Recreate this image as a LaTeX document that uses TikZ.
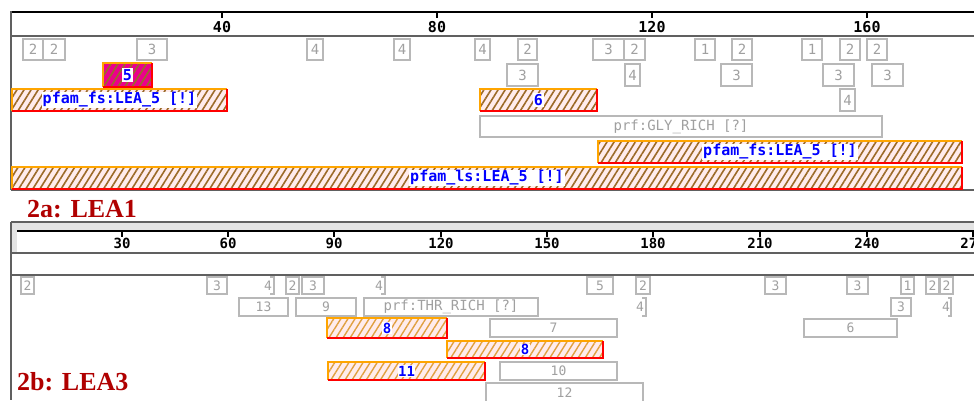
\documentclass[tikz,border=0pt]{standalone}
\usepackage{fontspec}
\setmainfont{Liberation Serif}
\newfontfamily\monof{DejaVu Sans Mono}
\usetikzlibrary{patterns.meta}
\definecolor{boxgray}{HTML}{B8B8B8}
\definecolor{txtgray}{HTML}{A0A0A0}
\definecolor{pinkbg}{HTML}{FFECEC}
\definecolor{hatchtop}{HTML}{9C6A28}
\definecolor{hatchbot}{HTML}{E0A040}
\definecolor{bordor}{HTML}{FFA500}
\definecolor{bordred}{HTML}{FF0000}
\definecolor{labred}{HTML}{B00000}
\definecolor{labblue}{HTML}{0000FF}
\definecolor{framegray}{HTML}{606060}
\definecolor{bandgray}{HTML}{E4E4E4}
\tikzset{
  gbox/.style={draw=boxgray,line width=1.4pt,text=txtgray,inner sep=0pt,font=\monof\fontsize{14}{14}\selectfont},
  gboxs/.style={gbox,font=\monof\fontsize{13}{13}\selectfont},
  htop/.style={inner sep=0pt,preaction={fill=pinkbg},pattern={Lines[angle=58,distance=6pt,line width=1.6pt]},pattern color=hatchtop},
  hbot/.style={inner sep=0pt,preaction={fill=pinkbg},pattern={Lines[angle=58,distance=6pt,line width=1.4pt]},pattern color=hatchbot},
  hmag/.style={inner sep=0pt,preaction={fill=magenta},pattern={Lines[angle=58,distance=6pt,line width=1.6pt]},pattern color=hatchtop},
  hlab/.style={fill=white,inner sep=1pt,text=labblue,font=\monof\bfseries\fontsize{15}{15}\selectfont},
  hlabs/.style={fill=white,inner sep=0.5pt,text=labblue,font=\monof\bfseries\fontsize{14}{14}\selectfont},
  rulnum/.style={inner sep=0pt,font=\monof\bfseries\fontsize{15}{15}\selectfont},
  rulnums/.style={inner sep=0pt,font=\monof\bfseries\fontsize{14}{14}\selectfont},
  tick/.style={line width=1.5pt},
  brk/.style={draw=boxgray,line width=1.4pt},
  ptxt/.style={inner sep=0pt,text=txtgray,font=\monof\fontsize{13}{13}\selectfont},
  panlab/.style={inner sep=0pt,text=labred,font=\bfseries\fontsize{26}{26}\selectfont},
  obord/.style={draw=bordor,line width=1.8pt},
  rbord/.style={draw=bordred,line width=1.8pt}
}
\newcommand\gbx[7]{\node[#7,minimum width={(#4-#2)*1pt},minimum height={(#5-#3)*1pt}] (#1) at ({(#2+#4)/2},{(#3+#5)/2}) {#6};}
\newcommand\hbx[8]{%
  \node[#7,minimum width={(#4-#2)*1pt},minimum height={(#5-#3)*1pt}] (#1) at ({(#2+#4)/2},{(#3+#5)/2}) {};
  \draw[obord] (#1.south west) -- (#1.north west) -- (#1.north east);
  \draw[rbord] (#1.north east) -- (#1.south east) -- (#1.south west);
  \node[#8] (#1-l) at (#1.center) {#6};}
\begin{document}
\begin{tikzpicture}[x=1pt,y=-1pt]
\useasboundingbox[fill=white] (0,0) rectangle (974,400);
% ---------------- top panel frame
\draw[line width=2pt] (11,12) -- (974,12);
\draw[framegray,line width=1.5pt] (11,36) -- (974,36);
\draw[framegray,line width=1.5pt] (11,11) -- (11,190);
\draw[framegray,line width=1.5pt] (11,190) -- (974,190);
\foreach \x/\n in {222/40,437/80,652/120,867/160}{
  \draw[tick] (\x,12) -- (\x,18);
  \node[rulnum] (rt\n) at (\x,27.5) {\n};
}
% row 1
\gbx{t1a}{23}{39}{43}{60}{2}{gbox}
\gbx{t1b}{43}{39}{65}{60}{2}{gbox}
\gbx{t1c}{137}{39}{167}{60}{3}{gbox}
\gbx{t1d}{307}{39}{323}{60}{4}{gbox}
\gbx{t1e}{394}{39}{410}{60}{4}{gbox}
\gbx{t1f}{475}{39}{490}{60}{4}{gbox}
\gbx{t1g}{518}{39}{537}{60}{2}{gbox}
\gbx{t1h}{593}{39}{624}{60}{3}{gbox}
\gbx{t1i}{624}{39}{645}{60}{2}{gbox}
\gbx{t1j}{695}{39}{715}{60}{1}{gbox}
\gbx{t1k}{732}{39}{752}{60}{2}{gbox}
\gbx{t1l}{802}{39}{822}{60}{1}{gbox}
\gbx{t1m}{840}{39}{860}{60}{2}{gbox}
\gbx{t1n}{867}{39}{887}{60}{2}{gbox}
% row 2
\hbx{m5}{104}{64}{151}{86}{5}{hmag}{hlab}
\gbx{t2a}{507}{64}{538}{86}{3}{gbox}
\gbx{t2b}{625}{64}{640}{86}{4}{gbox}
\gbx{t2c}{721}{64}{752}{86}{3}{gbox}
\gbx{t2d}{823}{64}{854}{86}{3}{gbox}
\gbx{t2e}{872}{64}{903}{86}{3}{gbox}
% row 3
\hbx{p1}{12}{89}{227}{111}{pfam\_fs:LEA\_5 [!]}{htop}{hlab}
\hbx{p6}{480}{89}{597}{111}{6}{htop}{hlab}
\gbx{t3a}{840}{89}{855}{111}{4}{gbox}
% row 4
\gbx{t4a}{480}{116}{882}{137}{prf:GLY\_RICH [?]}{gbox}
% row 5
\hbx{p2}{598}{141}{962}{163}{pfam\_fs:LEA\_5 [!]}{htop}{hlab}
% row 6
\hbx{p3}{12}{167}{962}{189}{pfam\_ls:LEA\_5 [!]}{htop}{hlab}
% ---------------- labels
\node[panlab,anchor=base west] (lab2a) at (27,217) {2a: LEA1};
% ---------------- bottom panel frame
\fill[bandgray] (11,222) rectangle (974,231);
\fill[bandgray] (11,222) rectangle (17,253);
\draw[framegray,line width=1.2pt] (11,222) -- (974,222);
\draw[framegray,line width=1.2pt] (11,222) -- (11,400);
\draw[line width=2pt] (17,231) -- (974,231);
\draw[framegray,line width=2pt] (11,253) -- (974,253);
\draw[framegray,line width=1.2pt] (11,275) -- (974,275);
\foreach \x/\n in {122/30,228/60,334/90,441/120,547/150,653/180,760/210,867/240,973/270}{
  \draw[tick] (\x,231) -- (\x,237);
  \node[rulnums] (rb\n) at (\x,243) {\n};
}
% row 1
\gbx{b1a}{21}{277}{34}{294}{2}{gboxs}
\gbx{b1b}{207}{277}{227}{294}{3}{gboxs}
\node[ptxt] (b1p1) at (268,285.5) {4};
\draw[brk] (270,277) -- (274,277) -- (274,294) -- (270,294);
\gbx{b1c}{286}{277}{299}{294}{2}{gboxs}
\gbx{b1d}{302}{277}{324}{294}{3}{gboxs}
\node[ptxt] (b1p2) at (379,285.5) {4};
\draw[brk] (381,277) -- (385,277) -- (385,294) -- (381,294);
\gbx{b1e}{587}{277}{613}{294}{5}{gboxs}
\gbx{b1f}{636}{277}{650}{294}{2}{gboxs}
\gbx{b1g}{765}{277}{786}{294}{3}{gboxs}
\gbx{b1h}{847}{277}{868}{294}{3}{gboxs}
\gbx{b1i}{901}{277}{914}{294}{1}{gboxs}
\gbx{b1j}{926}{277}{939}{294}{2}{gboxs}
\gbx{b1k}{940}{277}{953}{294}{2}{gboxs}
% row 2
\gbx{b2a}{239}{298}{288}{316}{13}{gboxs}
\gbx{b2b}{296}{298}{356}{316}{9}{gboxs}
\gbx{b2c}{364}{298}{538}{316}{prf:THR\_RICH [?]}{gbox}
\node[ptxt] (b2p1) at (640,307) {4};
\draw[brk] (642,298) -- (646,298) -- (646,316) -- (642,316);
\gbx{b2d}{891}{298}{911}{316}{3}{gboxs}
\node[ptxt] (b2p2) at (946,307) {4};
\draw[brk] (948,298) -- (951,298) -- (951,316) -- (948,316);
% row 3
\hbx{h8a}{328}{319}{446}{337}{8}{hbot}{hlabs}
\gbx{b3a}{490}{319}{617}{337}{7}{gboxs}
\gbx{b3b}{804}{319}{897}{337}{6}{gboxs}
% row 4
\hbx{h8b}{447}{341}{603}{358}{8}{hbot}{hlabs}
% row 5
\hbx{h11}{328}{362}{485}{380}{11}{hbot}{hlabs}
\gbx{b5a}{500}{362}{617}{380}{10}{gboxs}
% row 6
\gbx{b6a}{486}{383}{643}{403}{12}{gboxs}
\node[panlab,anchor=base west] (lab2b) at (17,390) {2b: LEA3};
\end{tikzpicture}
\end{document}
